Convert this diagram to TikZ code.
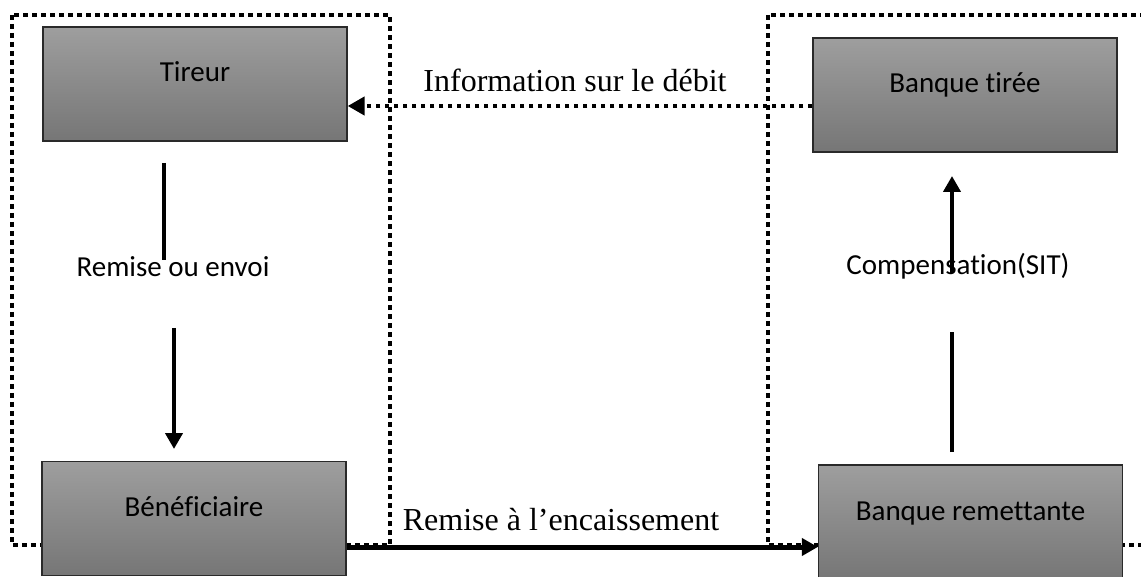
\documentclass[tikz,border=0pt]{standalone}
\usepackage{fontspec}
\setmainfont{Liberation Serif}
\newfontfamily\boxfont[Ligatures={NoCommon,NoContextual},Contextuals={NoAlternate}]{Carlito}
\usetikzlibrary{arrows.meta}
\definecolor{boxtop}{HTML}{9E9E9E}
\definecolor{boxbot}{HTML}{767676}
\definecolor{boxline}{HTML}{2A2A2A}
\tikzset{
  entity/.style={draw=boxline, line width=1.3pt, top color=boxtop, bottom color=boxbot,
    minimum width=304pt, minimum height=114pt, inner sep=0pt,
    font=\boxfont\fontsize{29}{32}\selectfont, text height=10pt, text depth=14pt},
  frame/.style={line width=4.8pt, dash pattern=on 4.6pt off 4.4pt, line cap=butt},
  flow/.style={line width=4.6pt, -{Triangle[length=16pt,width=17pt]}},
  plain/.style={line width=4.6pt},
  seriflabel/.style={font=\fontsize{32}{36}\selectfont, anchor=base, inner sep=0pt},
  sanslabel/.style={font=\boxfont\fontsize{29}{32}\selectfont, anchor=base, inner sep=0pt}
}
\begin{document}
\begin{tikzpicture}[x=1pt,y=-1pt]
\useasboundingbox (0,0) rectangle (1141,577);
\clip (0,0) rectangle (1141,577);
% dotted frames
\draw[frame] (12,15) rectangle (390,545);
\draw[frame] (768,15) rectangle (1160,545);
% boxes
\node[entity] (tireur) at (195,84) {Tireur};
\node[entity] (tiree) at (965,95) {Banque tirée};
\node[entity] (benef) at (194,518.5) {Bénéficiaire};
\node[entity] (remet) at (970.5,522) {Banque remettante};
% labels
\node[seriflabel] (linfo) at (575,92) {Information sur le débit};
\node[seriflabel] (lenc) at (561,530) {Remise à l’encaissement};
\node[sanslabel] (lenv) at (173,277) {Remise ou envoi};
\node[sanslabel] (lcomp) at (958,275) {Compensation(SIT)};
% coordinates for split connectors
\coordinate (a1) at (164,163);
\coordinate (a2) at (164,260);
\coordinate (a3) at (174,328);
\coordinate (a4) at (174,449);
\coordinate (b1) at (952,452);
\coordinate (b2) at (952,332);
\coordinate (b3) at (952,273);
\coordinate (b4) at (952,176);
% connectors
\draw[frame, -{Triangle[length=17pt,width=18pt]}] (tiree.west |- 0,106) -- (tireur.east |- 0,106);
\draw[plain] (a1) -- (a2);
\draw[flow] (a3) -- (a4);
\draw[plain] (b1) -- (b2);
\draw[flow] (b3) -- (b4);
\draw[line width=5pt, -{Triangle[length=16pt,width=17pt]}] (benef.east |- 0,547) -- (remet.west |- 0,547);
\end{tikzpicture}
\end{document}
